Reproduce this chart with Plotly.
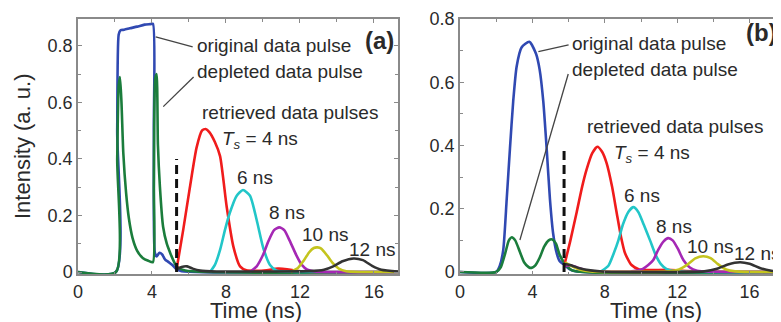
import plotly.graph_objects as go

# ---------------- data: panel (a) ----------------
orig_a_t = [0, 2.05, 2.12, 2.2, 2.3, 2.5, 2.8, 3.2, 3.6, 3.9, 4.05, 4.1, 4.15, 4.25, 4.4, 4.55, 4.7, 4.9, 5.1, 5.33, 5.6, 17.3]
orig_a_y = [0, 0, 0.5, 0.84, 0.855, 0.857, 0.862, 0.868, 0.875, 0.877, 0.878, 0.5, 0.07, 0.055, 0.068, 0.062, 0.045, 0.035, 0.025, 0.01, 0.003, 0]

depl_a_t = [0, 2.05, 2.12, 2.2, 2.27, 2.35, 2.45, 2.6, 2.75, 2.95, 3.2, 3.5, 3.8, 4.05, 4.1, 4.17, 4.25, 4.32, 4.43, 4.6, 4.8, 5.0, 5.2, 5.33, 5.8, 17.3]
depl_a_y = [0, 0, 0.4, 0.66, 0.69, 0.6, 0.42, 0.28, 0.19, 0.12, 0.075, 0.05, 0.04, 0.035, 0.3, 0.68, 0.70, 0.45, 0.3, 0.16, 0.1, 0.065, 0.035, 0.02, 0.005, 0]

red_a_t = [5.33, 5.69, 6.05, 6.41, 6.7, 6.9, 7.1, 7.4, 7.68, 8.04, 8.4, 8.76, 9.1, 9.6, 10.2, 10.8, 11.3, 11.8, 12.3, 17.3]
red_a_y = [0.01, 0.15, 0.30, 0.44, 0.5, 0.506, 0.495, 0.46, 0.41, 0.23, 0.09, 0.02, 0.006, 0.004, 0.006, 0.012, 0.01, 0.004, 0.001, 0]

cyan_a_t = [7.14, 7.4, 7.68, 7.95, 8.2, 8.58, 8.92, 9.3, 9.66, 10.02, 10.38, 10.74, 11.5, 17.3]
cyan_a_y = [0.0, 0.025, 0.078, 0.15, 0.208, 0.27, 0.29, 0.27, 0.184, 0.084, 0.025, 0.005, 0.001, 0]

mag_a_t = [9.3, 9.66, 10.0, 10.3, 10.6, 10.88, 11.15, 11.45, 11.8, 12.1, 12.4, 12.8, 17.3]
mag_a_y = [0.0, 0.02, 0.06, 0.11, 0.148, 0.158, 0.148, 0.11, 0.06, 0.025, 0.008, 0.002, 0]

yel_a_t = [11.5, 11.9, 12.2, 12.5, 12.75, 12.95, 13.15, 13.45, 13.75, 14.1, 14.5, 17.3]
yel_a_y = [0.0, 0.015, 0.04, 0.07, 0.085, 0.087, 0.083, 0.06, 0.033, 0.012, 0.003, 0]

blk_a_t = [5.33, 5.6, 5.9, 6.2, 6.6, 7.5, 10.0, 12.5, 13.3, 13.8, 14.3, 14.9, 15.4, 15.9, 16.4, 17.3]
blk_a_y = [0.01, 0.018, 0.02, 0.012, 0.005, 0.002, 0.002, 0.003, 0.008, 0.02, 0.038, 0.048, 0.042, 0.022, 0.008, 0.002]

gate_a_t = [5.33, 5.33]
gate_a_y = [0.0, 0.40]

# ---------------- data: panel (b) ----------------
orig_b_t = [0, 2.0, 2.2, 2.39, 2.58, 2.76, 2.94, 3.13, 3.4, 3.83, 4.2, 4.4, 4.6, 4.8, 4.97, 5.15, 5.34, 5.5, 5.71, 6.2, 17.7]
orig_b_y = [0, 0, 0.02, 0.07, 0.23, 0.39, 0.54, 0.65, 0.71, 0.728, 0.69, 0.64, 0.54, 0.38, 0.23, 0.12, 0.06, 0.035, 0.025, 0.005, 0]

depl_b_t = [0, 2.0, 2.25, 2.5, 2.7, 2.86, 3.05, 3.3, 3.55, 3.8, 3.95, 4.15, 4.4, 4.65, 4.9, 5.1, 5.3, 5.5, 5.75, 6.2, 17.7]
depl_b_y = [0, 0, 0.015, 0.06, 0.1, 0.11, 0.1, 0.065, 0.03, 0.015, 0.013, 0.02, 0.045, 0.08, 0.1, 0.103, 0.09, 0.055, 0.03, 0.005, 0]

red_b_t = [5.8, 6.1, 6.45, 6.75, 7.0, 7.3, 7.59, 7.85, 8.1, 8.4, 8.66, 8.9, 9.12, 9.48, 9.9, 10.5, 11.5, 12.5, 17.7]
red_b_y = [0.03, 0.1, 0.19, 0.27, 0.325, 0.375, 0.396, 0.38, 0.344, 0.27, 0.186, 0.11, 0.059, 0.022, 0.008, 0.006, 0.007, 0.003, 0]

cyan_b_t = [7.8, 8.2, 8.5, 8.75, 9.0, 9.3, 9.58, 9.85, 10.15, 10.5, 10.8, 11.1, 11.4, 11.8, 17.7]
cyan_b_y = [0.002, 0.02, 0.06, 0.1, 0.15, 0.19, 0.205, 0.19, 0.15, 0.1, 0.055, 0.025, 0.01, 0.003, 0]

mag_b_t = [5.8, 6.2, 6.6, 7.0, 7.6, 9.5, 10.1, 10.4, 10.68, 10.95, 11.25, 11.5, 11.75, 12.05, 12.34, 12.7, 13.1, 14.0, 17.7]
mag_b_y = [0.02, 0.02, 0.012, 0.005, 0.002, 0.002, 0.01, 0.022, 0.038, 0.07, 0.097, 0.107, 0.1, 0.072, 0.038, 0.014, 0.004, 0.001, 0]

yel_b_t = [5.8, 6.2, 6.6, 7.2, 11.5, 12.1, 12.6, 13.0, 13.44, 13.85, 14.25, 14.7, 15.2, 17.7]
yel_b_y = [0.03, 0.018, 0.008, 0.002, 0.002, 0.008, 0.025, 0.043, 0.05, 0.044, 0.025, 0.008, 0.002, 0]

blk_b_t = [5.8, 6.2, 6.6, 7.2, 8.0, 13.5, 14.2, 14.8, 15.47, 16.0, 16.6, 17.2, 17.7]
blk_b_y = [0.025, 0.02, 0.012, 0.005, 0.001, 0.002, 0.01, 0.024, 0.031, 0.026, 0.012, 0.004, 0.001]

gate_b_t = [5.75, 5.75]
gate_b_y = [0.0, 0.396]

x_ticks = [0, 4, 8, 12, 16]
y_ticks_a = [0, 0.2, 0.4, 0.6, 0.8]
y_ticks_b = [0, 0.2, 0.4, 0.6, 0.8]

# ---------------- styles ----------------
C_BLUE = "#3049b2"
C_GREEN = "#1b7d3c"
C_RED = "#f01c1c"
C_CYAN = "#22c6c8"
C_MAG = "#a528b4"
C_YEL = "#c4c41e"
C_BLK = "#333333"
LW = 2.6
TXT = "#2a2a2a"
AX = "#8a8a8a"

# the page body adds an 8 px offset; size the figure to the visible area
OFF = 8
W, H = 781 - OFF, 322 - OFF

def fx(px):
    return (px - OFF) / W

def fy(py):
    return (322 - py) / H

fig = go.Figure()

def add_panel(xa, ya, series, gate):
    for t, y, c in series:
        fig.add_trace(go.Scatter(x=t, y=y, mode="lines", line=dict(color=c, width=LW, shape="spline", smoothing=0.6),
                                 xaxis=xa, yaxis=ya, showlegend=False, hoverinfo="skip"))
    fig.add_trace(go.Scatter(x=gate[0], y=gate[1], mode="lines", line=dict(color="#111111", width=3, dash="9px,5px"),
                             xaxis=xa, yaxis=ya, showlegend=False, hoverinfo="skip"))

add_panel("x", "y", [
    (orig_a_t, orig_a_y, C_BLUE), (depl_a_t, depl_a_y, C_GREEN),
    (red_a_t, red_a_y, C_RED), (cyan_a_t, cyan_a_y, C_CYAN), (mag_a_t, mag_a_y, C_MAG),
    (yel_a_t, yel_a_y, C_YEL), (blk_a_t, blk_a_y, C_BLK)], (gate_a_t, gate_a_y))
add_panel("x2", "y2", [
    (orig_b_t, orig_b_y, C_BLUE), (depl_b_t, depl_b_y, C_GREEN),
    (red_b_t, red_b_y, C_RED), (cyan_b_t, cyan_b_y, C_CYAN), (mag_b_t, mag_b_y, C_MAG),
    (yel_b_t, yel_b_y, C_YEL), (blk_b_t, blk_b_y, C_BLK)], (gate_b_t, gate_b_y))

ydom = [fy(274.3), fy(19)]

def xax(dom, rng):
    return dict(domain=dom, range=rng, tickvals=x_ticks, ticks="inside", ticklen=4, tickcolor=AX,
                showline=True, linecolor=AX, linewidth=1.5, mirror="ticks", showgrid=False, zeroline=False,
                tickfont=dict(size=18, color=TXT), automargin=False,
                minor=dict(dtick=2, tick0=0, ticks="inside", ticklen=3, tickcolor=AX))

def yax(rng, tv, anchor):
    return dict(domain=ydom, range=rng, tickvals=tv, ticks="inside", ticklen=4, tickcolor=AX, anchor=anchor,
                showline=True, linecolor=AX, linewidth=1.5, mirror="ticks", showgrid=False, zeroline=False,
                tickfont=dict(size=18, color=TXT), automargin=False,
                minor=dict(dtick=0.1, tick0=0, ticks="inside", ticklen=3, tickcolor=AX))

fig.update_layout(
    width=W, height=H, margin=dict(l=0, r=0, t=0, b=0),
    paper_bgcolor="white", plot_bgcolor="white",
    font=dict(family="Liberation Sans, Arial, sans-serif", color=TXT),
    xaxis=dict(xax([fx(78), fx(398)], [0, 17.3]), anchor="y"),
    yaxis=yax([-0.0081, 0.895], y_ticks_a, "x"),
    xaxis2=dict(xax([fx(460), fx(780)], [0, 17.68]), anchor="y2"),
    yaxis2=yax([-0.0073, 0.8], y_ticks_b, "x2"),
)

def note(text, x, y, xr, yr, xanchor="left", size=19, bold=False, angle=0):
    fig.add_annotation(text=("<b>%s</b>" % text) if bold else text, x=x, y=y, xref=xr, yref=yr,
                       xanchor=xanchor, yanchor="middle", showarrow=False, textangle=angle,
                       font=dict(size=size, color=TXT))

# panel (a) labels
note("original data pulse", 6.32, 0.80, "x", "y")
note("depleted data pulse", 6.32, 0.708, "x", "y")
note("retrieved data pulses", 6.6, 0.563, "x", "y")
note("<i>T<sub>s</sub></i> = 4 ns", 7.68, 0.467, "x", "y")
note("6 ns", 9.57, 0.336, "x", "y", "center")
note("8 ns", 11.3, 0.209, "x", "y", "center")
note("10 ns", 13.35, 0.131, "x", "y", "center")
note("12 ns", 15.9, 0.078, "x", "y", "center")
note("(a)", 17.2, 0.82, "x", "y", "right", 24, True)
# panel (b) labels
note("original data pulse", 6.08, 0.724, "x2", "y2")
note("depleted data pulse", 6.08, 0.639, "x2", "y2")
note("retrieved data pulses", 6.9, 0.459, "x2", "y2")
note("<i>T<sub>s</sub></i> = 4 ns", 8.38, 0.373, "x2", "y2")
note("6 ns", 10.04, 0.243, "x2", "y2", "center")
note("8 ns", 11.82, 0.143, "x2", "y2", "center")
note("10 ns", 13.81, 0.08, "x2", "y2", "center")
note("12 ns", 16.39, 0.06, "x2", "y2", "center")
note("(b)", 17.6, 0.756, "x2", "y2", "right", 24, True)

# axis titles
note("Time (ns)", fx(256), fy(310), "paper", "paper", "center", 22)
note("Time (ns)", fx(656), fy(310), "paper", "paper", "center", 22)
note("Intensity (a. u.)", fx(22), fy(146), "paper", "paper", "center", 22, angle=-90)

# leader lines
def leader(x0, y0, x1, y1, xr, yr):
    fig.add_shape(type="line", x0=x0, y0=y0, x1=x1, y1=y1, xref=xr, yref=yr, line=dict(color="#444444", width=1.3))

leader(4.2, 0.832, 6.2, 0.796, "x", "y")
leader(4.61, 0.585, 6.25, 0.69, "x", "y")
leader(4.33, 0.697, 6.0, 0.718, "x2", "y2")
leader(3.31, 0.101, 5.98, 0.626, "x2", "y2")

fig.write_html("out.html")
